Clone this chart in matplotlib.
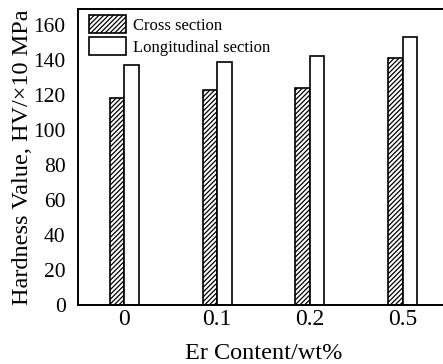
import matplotlib
matplotlib.use('Agg')
from matplotlib import pyplot as plt
import numpy as np

plt.rcParams['font.family'] = ['Liberation Serif', 'DejaVu Serif']
plt.rcParams['hatch.linewidth'] = 0.9

categories = ["0", "0.1", "0.2", "0.5"]
cross = [118, 123, 124, 141]
longitudinal = [137, 139, 142, 153]

x = np.arange(len(categories))
w = 0.155

fig = plt.figure(figsize=(4.43, 3.64), dpi=100)
ax = fig.add_axes([78 / 443, 1 - 305 / 364, (449 - 78) / 443, (305 - 9) / 364])

ax.bar(x - w / 2, cross, w, facecolor='white', edgecolor='black',
       hatch='///////', linewidth=1.2, label='Cross section')
ax.bar(x + w / 2, longitudinal, w, facecolor='white', edgecolor='black',
       linewidth=1.2, label='Longitudinal section')

ax.set_xlim(-0.5, 3.5)
ax.set_ylim(0, 169)
ax.set_yticks(np.arange(0, 161, 20))
ax.set_xticks(x)
ax.set_xticklabels(categories)
ax.tick_params(axis='y', length=0, labelsize=15.5, pad=9)
ax.tick_params(axis='x', length=0, labelsize=17, pad=3)
for s in ax.spines.values():
    s.set_linewidth(1.4)

ax.set_ylabel("Hardness Value, HV/×10 MPa", fontsize=17.5)
ax.yaxis.set_label_coords(-0.12, 0.5)
ax.set_xlabel("Er Content/wt%", fontsize=17.5, labelpad=9)

ax.legend(loc='upper left', frameon=False, fontsize=12, handlelength=2.25,
          handleheight=1.3, handletextpad=0.4, borderaxespad=0.1,
          labelspacing=0.2, borderpad=0.25, bbox_to_anchor=(0.013, 1.0))

fig.savefig("out.png", dpi=100)
